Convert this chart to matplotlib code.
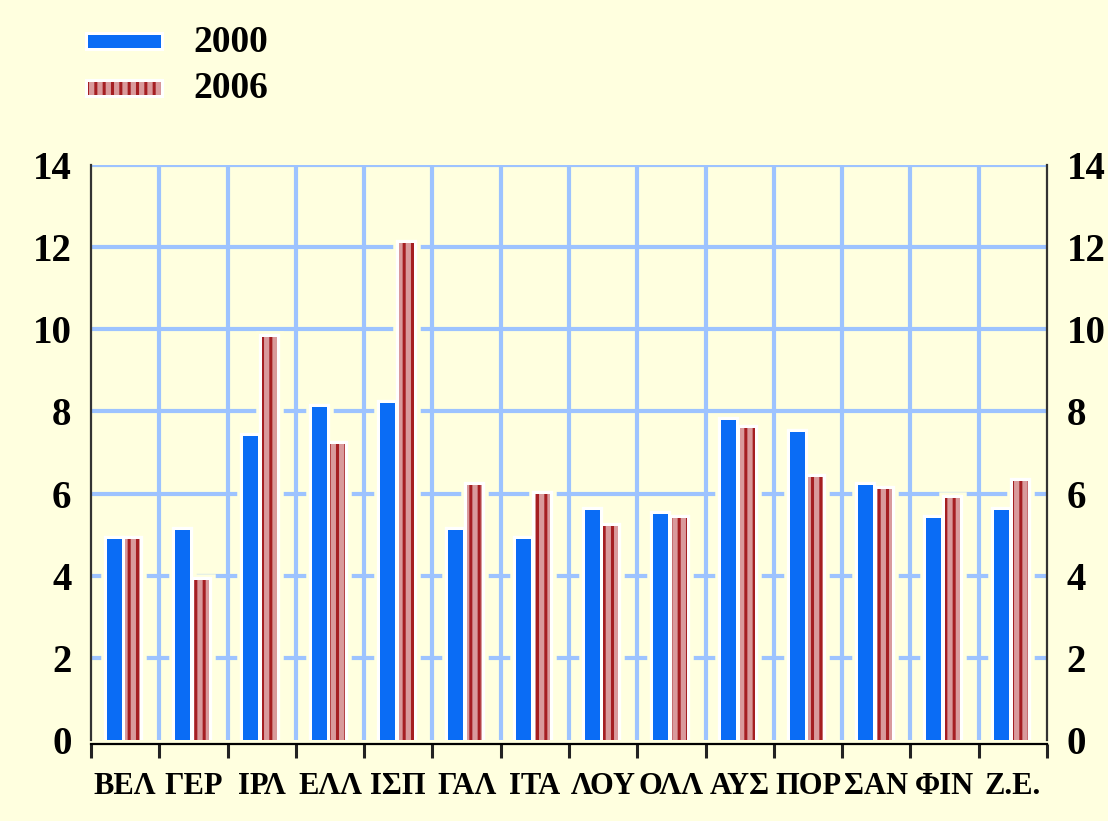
import matplotlib.pyplot as plt
import numpy as np
from matplotlib.patches import Rectangle

countries = ["ΒΕΛ", "ΓΕΡ", "ΙΡΛ", "ΕΛΛ", "ΙΣΠ", "ΓΑΛ", "ΙΤΑ",
             "ΛΟΥ", "ΟΛΛ", "ΑΥΣ", "ΠΟΡ", "ΣΑΝ", "ΦΙΝ", "Ζ.Ε."]
y2000 = [4.9, 5.1, 7.4, 8.1, 8.2, 5.1, 4.9, 5.6, 5.5, 7.8, 7.5, 6.2, 5.4, 5.6]
y2006 = [4.9, 3.9, 9.8, 7.2, 12.1, 6.2, 6.0, 5.2, 5.4, 7.6, 6.4, 6.1, 5.9, 6.3]
yticks = [0, 2, 4, 6, 8, 10, 12, 14]

bg = "#FFFFDF"
blue = "#0A6CF5"
pink = "#D99A9C"
darkred = "#A51E22"
gridc = "#9DC3FF"

plt.rcParams['hatch.linewidth'] = 2.2
plt.rcParams['font.family'] = ['Liberation Serif', 'DejaVu Serif']
plt.rcParams['font.weight'] = 'bold'

fig = plt.figure(figsize=(11.08, 8.21), dpi=100, facecolor=bg)
ax = fig.add_axes([0.0821, 0.0987, 0.8628, 0.7004])
ax.set_facecolor(bg)

x = np.arange(len(countries))
w = 0.22
x0 = x - 0.16
x1 = x + 0.115


def halo_bars(xs, vals, face, hatch=None):
    # background-coloured gap, then white rim, then the bar itself
    ax.bar(xs, vals, w, color=bg, edgecolor=bg, linewidth=9, zorder=2)
    ax.bar(xs, vals, w, color="white", edgecolor="white", linewidth=4.5, zorder=3)
    ax.bar(xs, vals, w, color=face, linewidth=0, zorder=4)
    if hatch:
        ax.bar(xs, vals, w, color="none", edgecolor=darkred, linewidth=0,
               hatch=hatch, zorder=5)


halo_bars(x0, y2000, blue)
halo_bars(x1, y2006, pink, hatch="||")

ax.set_xlim(-0.5, len(countries) - 0.5)
ax.set_ylim(0, 14)

# grid
for b in np.arange(0.5, len(countries) - 0.5, 1):
    ax.axvline(b, color=gridc, lw=3, zorder=1)
for t in yticks[1:]:
    ax.axhline(t, color=gridc, lw=3, zorder=1)

ax.set_yticks(yticks)
ax.tick_params(axis='y', length=0, labelsize=28, pad=14,
               labelleft=True, labelright=True)

# bottom axis: ticks at boundaries, labels at centres
ax.set_xticks(np.arange(-0.5, len(countries), 1))
ax.set_xticklabels([])
ax.tick_params(axis='x', which='major', length=10, width=2.2, color="#222222")
ax.set_xticks(x, minor=True)
ax.set_xticklabels(countries, minor=True)
ax.tick_params(axis='x', which='minor', length=0, pad=20, labelsize=22)

ax.spines['top'].set_visible(False)
ax.spines['bottom'].set_position(('outward', 3))
ax.spines['bottom'].set_linewidth(1.6)
for s in ('left', 'right'):
    ax.spines[s].set_linewidth(1.6)
    ax.spines[s].set_color("#333333")

# legend
def legend_row(ypix, face, hatch, label):
    x0f, wf, hf = 88 / 1108, 73 / 1108, 13 / 821
    yf = 1 - ypix / 821
    fig.add_artist(Rectangle((x0f - 3 / 1108, yf - hf / 2 - 3 / 821),
                             wf + 6 / 1108, hf + 6 / 821,
                             transform=fig.transFigure, color="white", lw=0))
    fig.add_artist(Rectangle((x0f, yf - hf / 2), wf, hf, transform=fig.transFigure,
                             facecolor=face, edgecolor=darkred if hatch else face,
                             lw=0, hatch=hatch))
    fig.text(193 / 1108, yf, label, fontsize=27, va='center', ha='left')


legend_row(42, blue, None, "2000")
legend_row(89, pink, "||", "2006")

fig.savefig("out.png", dpi=100, facecolor=bg)
